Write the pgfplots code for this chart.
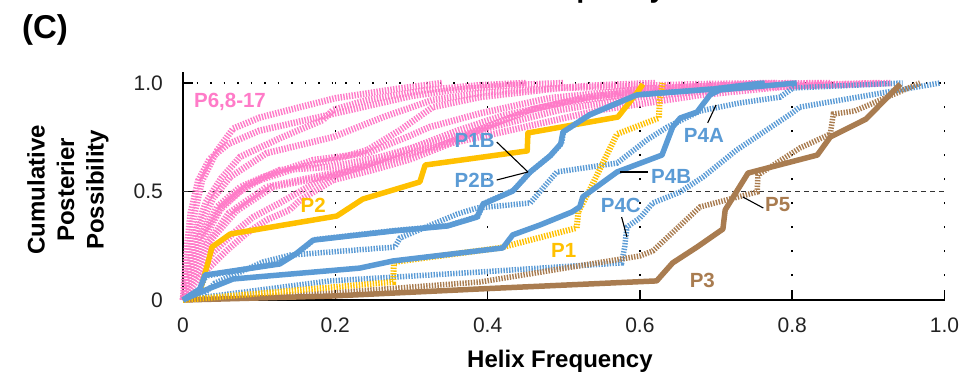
\documentclass[border=0pt]{standalone}
\usepackage{fontspec}
\setmainfont{Liberation Sans}
\usepackage{pgfplots}
\pgfplotsset{compat=1.18}
\definecolor{pinkc}{HTML}{FF7BC8}
\definecolor{yel}{HTML}{FFC000}
\definecolor{blu}{HTML}{5B9BD5}
\definecolor{brn}{HTML}{A97C50}
\definecolor{tickgray}{HTML}{222222}
\pgfplotsset{
  solidl/.style={line width=5.5pt, no marks, line join=round},
  hatchl/.style={line width=5.5pt, no marks, dash pattern=on 1.4pt off 1.4pt},
  pinkl/.style={pinkc, line width=6.5pt, no marks, dash pattern=on 1.4pt off 1.4pt},
}
\newcommand\lab{\bfseries\fontsize{20.5}{24}\selectfont}
\begin{document}
\begin{tikzpicture}[x=1pt,y=1pt]
\node[font=\bfseries\fontsize{33}{38}\selectfont] at (45,346) {(C)};
\node[font=\bfseries\fontsize{28}{32}\selectfont, anchor=base west] at (520,378.5) {Frequency};
\begin{axis}[
  at={(183pt,76pt)}, anchor=south west, scale only axis,
  width=761.5pt, height=227.85pt,
  xmin=0, xmax=1, ymin=0, ymax=1.05,
  axis x line=bottom, axis y line=left,
  axis line style={line width=2.6pt, -},
  xtick={0,0.2,0.4,0.6,0.8,1}, xticklabels={0,0.2,0.4,0.6,0.8,1.0},
  ytick={0,0.5,1}, yticklabels={0\hspace{6pt},0.5,1.0},
  tick align=inside, major tick length=10pt,
  tick style={line width=1.5pt, black},
  xmajorgrids,
  x grid style={black, line width=1.6pt, dash pattern=on 1.6pt off 22.4pt},
  xticklabel style={font=\fontsize{21}{25}\selectfont, text=tickgray, anchor=base, inner sep=0pt, yshift=-32pt},
  yticklabel style={font=\fontsize{21}{25}\selectfont, text=tickgray, anchor=east, inner sep=0pt, xshift=-20pt},
  xlabel={Helix Frequency},
  xlabel style={at={(axis description cs:0.495,-0.298)}, anchor=base, font=\bfseries\fontsize{24}{28}\selectfont},
  ylabel={Cumulative\\Posterier\\Possibility},
  ylabel style={at={(axis description cs:-0.151,0.483)}, anchor=center, align=center, font=\bfseries\fontsize{24}{29.5}\selectfont},
  clip=false,
]
\draw[black, line width=1.6pt, dash pattern=on 1.6pt off 11.9pt] (axis cs:0,1) -- (axis cs:1,1);
\draw[black!80, line width=1.3pt, dash pattern=on 5pt off 4pt] (axis cs:0,0.5) -- (axis cs:1,0.5);
% pink P6, P8-17
\addplot[pinkl] coordinates {(0,0) (0.005,0.15) (0.012,0.35) (0.025,0.55) (0.045,0.69) (0.066,0.79) (0.1,0.84) (0.155,0.89) (0.2,0.93) (0.285,0.975) (0.34,1.0)};
\addplot[pinkl] coordinates {(0,0) (0.006,0.12) (0.015,0.3) (0.03,0.45) (0.05,0.56) (0.075,0.66) (0.13,0.75) (0.184,0.83) (0.197,0.876) (0.242,0.922) (0.32,0.968) (0.39,0.99) (0.45,1.0)};
\addplot[pinkl] coordinates {(0,0) (0.008,0.15) (0.02,0.33) (0.04,0.47) (0.062,0.567) (0.11,0.677) (0.197,0.751) (0.263,0.843) (0.328,0.922) (0.39,0.954) (0.548,0.99) (0.62,1.0)};
\addplot[pinkl] coordinates {(0,0) (0.01,0.12) (0.025,0.27) (0.05,0.42) (0.075,0.5) (0.101,0.553) (0.154,0.613) (0.197,0.645) (0.242,0.691) (0.285,0.783) (0.328,0.889) (0.39,0.935) (0.495,0.977) (0.68,0.995) (0.78,1.0)};
\addplot[pinkl] coordinates {(0,0) (0.01,0.1) (0.03,0.25) (0.06,0.4) (0.11,0.521) (0.197,0.585) (0.263,0.645) (0.328,0.705) (0.39,0.751) (0.548,0.876) (0.68,0.945) (0.81,0.99) (0.915,1.0)};
\addplot[pinkl] coordinates {(0,0) (0.015,0.1) (0.04,0.22) (0.07,0.32) (0.092,0.382) (0.127,0.447) (0.18,0.553) (0.24,0.62) (0.3,0.7) (0.36,0.78) (0.42,0.85) (0.5,0.91) (0.6,0.955) (0.75,0.99) (0.85,1.0)};
\addplot[pinkl] coordinates {(0,0) (0.02,0.1) (0.058,0.23) (0.084,0.309) (0.11,0.369) (0.14,0.415) (0.154,0.461) (0.197,0.553) (0.25,0.6) (0.3,0.65) (0.35,0.72) (0.4,0.8) (0.45,0.87) (0.52,0.93) (0.62,0.97) (0.72,0.99) (0.8,1.0)};
\addplot[pinkl] coordinates {(0,0) (0.008,0.12) (0.02,0.28) (0.045,0.43) (0.075,0.52) (0.105,0.567) (0.171,0.645) (0.242,0.677) (0.294,0.751) (0.324,0.797) (0.39,0.86) (0.48,0.93) (0.61,0.975) (0.75,0.995) (0.84,1.0)};
\addplot[pinkl] coordinates {(0,0) (0.01,0.14) (0.025,0.3) (0.05,0.43) (0.085,0.53) (0.127,0.599) (0.193,0.613) (0.259,0.659) (0.324,0.724) (0.39,0.783) (0.495,0.876) (0.6,0.935) (0.73,0.977) (0.89,0.995) (0.93,1.0)};
\addplot[pinkl] coordinates {(0,0) (0.012,0.1) (0.035,0.27) (0.07,0.41) (0.118,0.521) (0.184,0.567) (0.26,0.63) (0.33,0.7) (0.4,0.8) (0.46,0.88) (0.54,0.94) (0.65,0.98) (0.78,1.0)};
\addplot[pinkl] coordinates {(0,0) (0.004,0.2) (0.01,0.4) (0.02,0.55) (0.035,0.65) (0.06,0.72) (0.1,0.78) (0.15,0.82) (0.2,0.86) (0.25,0.9) (0.3,0.94) (0.36,0.97) (0.43,0.99) (0.5,1.0)};
% P4C
\addplot[hatchl, blu] coordinates {(0,0) (0.193,0.088) (0.390,0.129) (0.576,0.171) (0.580,0.244) (0.583,0.336) (0.600,0.378) (0.617,0.447) (0.653,0.498) (0.683,0.567) (0.727,0.691) (0.800,0.862) (0.810,0.889) (0.994,1.0)};
% P4A
\addplot[hatchl, blu] coordinates {(0,0) (0.026,0.023) (0.042,0.078) (0.105,0.175) (0.141,0.207) (0.278,0.244) (0.285,0.286) (0.360,0.396) (0.386,0.424) (0.456,0.447) (0.475,0.525) (0.491,0.590) (0.570,0.631) (0.609,0.737) (0.636,0.797) (0.679,0.871) (0.731,0.908) (0.784,0.935) (0.801,0.977) (0.945,1.0)};
% P2B
\addplot[hatchl, blu] coordinates {(0,0) (0.022,0.05) (0.03,0.11) (0.125,0.17) (0.15,0.215) (0.172,0.278) (0.277,0.32) (0.348,0.343) (0.387,0.385) (0.395,0.445) (0.434,0.505) (0.456,0.59) (0.483,0.667) (0.497,0.722) (0.5,0.777) (0.535,0.856) (0.597,0.947) (0.697,0.973) (0.76,1.0)};
% P5
\addplot[hatchl, brn] coordinates {(0,0) (0.193,0.032) (0.390,0.083) (0.600,0.203) (0.617,0.226) (0.679,0.429) (0.754,0.498) (0.755,0.576) (0.810,0.700) (0.850,0.765) (0.854,0.857) (0.882,0.871) (0.968,1.0)};
% P3
\addplot[solidl, brn] coordinates {(0,0) (0.193,0.018) (0.390,0.051) (0.622,0.088) (0.643,0.171) (0.675,0.244) (0.709,0.327) (0.712,0.415) (0.742,0.585) (0.833,0.668) (0.850,0.751) (0.897,0.834) (0.942,0.995)};
% P1
\addplot[hatchl, yel, line width=6pt] coordinates {(0,0) (0.276,0.083) (0.277,0.175) (0.416,0.240) (0.517,0.332) (0.519,0.406) (0.534,0.507) (0.570,0.765) (0.625,0.839) (0.626,0.922) (0.630,1.0)};
% P2
\addplot[solidl, yel] coordinates {(0,0) (0.022,0.037) (0.033,0.175) (0.038,0.244) (0.062,0.304) (0.202,0.387) (0.236,0.465) (0.311,0.544) (0.318,0.622) (0.452,0.687) (0.453,0.770) (0.571,0.843) (0.596,0.954) (0.604,0.995)};
% P4B
\addplot[solidl, blu] coordinates {(0,0) (0.026,0.041) (0.066,0.097) (0.232,0.147) (0.276,0.180) (0.420,0.240) (0.433,0.300) (0.469,0.346) (0.511,0.406) (0.521,0.429) (0.525,0.475) (0.570,0.590) (0.629,0.668) (0.643,0.797) (0.653,0.839) (0.675,0.866) (0.692,0.945) (0.705,0.968) (0.806,1.0)};
% P1B
\addplot[solidl, blu] coordinates {(0,0) (0.022,0.051) (0.029,0.115) (0.127,0.166) (0.148,0.212) (0.171,0.276) (0.276,0.318) (0.347,0.341) (0.386,0.382) (0.394,0.442) (0.433,0.502) (0.456,0.590) (0.482,0.664) (0.496,0.719) (0.499,0.774) (0.534,0.853) (0.596,0.945) (0.696,0.972) (0.764,1.0)};
% pointer lines
\draw[black, line width=1.1pt] (axis cs:0.412,0.728) -- (axis cs:0.453,0.590);
\draw[black, line width=1.1pt] (axis cs:0.412,0.553) -- (axis cs:0.453,0.590);
\draw[black, line width=1.1pt] (axis cs:0.689,0.816) -- (axis cs:0.700,0.899);
\draw[black, line width=1.1pt] (axis cs:0.574,0.590) -- (axis cs:0.611,0.590);
\draw[black, line width=1.1pt] (axis cs:0.576,0.382) -- (axis cs:0.583,0.290);
\draw[black, line width=1.1pt] (axis cs:0.735,0.475) -- (axis cs:0.762,0.424);
% labels
\node[font=\lab, text=pinkc, inner sep=0pt] at (axis cs:0.0617,0.912) {P6,8-17};
\node[font=\lab, text=blu, inner sep=0pt] at (axis cs:0.383,0.733) {P1B};
\node[font=\lab, text=blu, inner sep=0pt] at (axis cs:0.383,0.553) {P2B};
\node[font=\lab, text=yel, inner sep=0pt] at (axis cs:0.171,0.438) {P2};
\node[font=\lab, text=blu, inner sep=0pt] at (axis cs:0.684,0.760) {P4A};
\node[font=\lab, text=blu, inner sep=0pt] at (axis cs:0.641,0.571) {P4B};
\node[font=\lab, text=blu, inner sep=0pt] at (axis cs:0.575,0.438) {P4C};
\node[font=\lab, text=yel, inner sep=0pt] at (axis cs:0.500,0.230) {P1};
\node[font=\lab, text=brn, inner sep=0pt] at (axis cs:0.682,0.092) {P3};
\node[font=\lab, text=brn, inner sep=0pt] at (axis cs:0.781,0.438) {P5};
\end{axis}
\pgfresetboundingbox
\useasboundingbox (0,0) rectangle (962,376);
\end{tikzpicture}
\end{document}
